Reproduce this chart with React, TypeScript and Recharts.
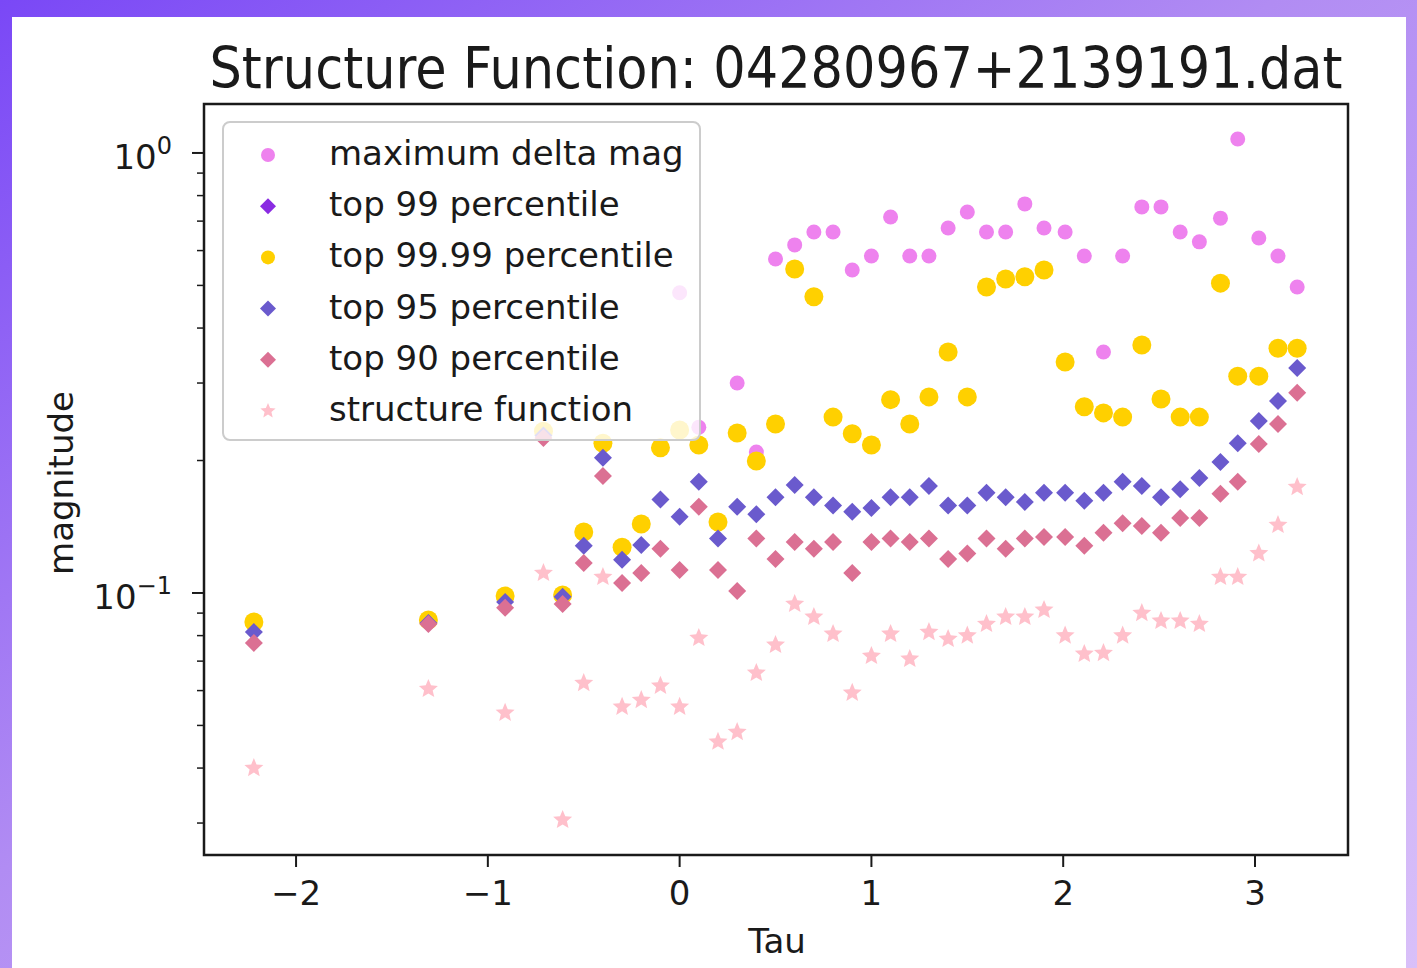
import React from "react";
import { ScatterChart, Scatter, XAxis, YAxis, ReferenceArea, Legend } from "recharts";

// log10 of the lag
const tau = [
  -2.22, -1.31, -0.91, -0.71, -0.61, -0.5, -0.4, -0.3, -0.2, -0.1, 0, 0.1, 0.2, 0.3, 0.4,
  0.5, 0.6, 0.7, 0.8, 0.9, 1.0, 1.1, 1.2, 1.3, 1.4, 1.5, 1.6, 1.7, 1.8, 1.9, 2.01, 2.11,
  2.21, 2.31, 2.41, 2.51, 2.61, 2.71, 2.82, 2.91, 3.02, 3.12, 3.22,
];

const maxDeltaMag = [
  0.0859, 0.0868, 0.0984, 0.233, 0.099, 0.1376, 0.219, 0.127, 0.1435, 0.2137, 0.481, 0.238,
  0.145, 0.3, 0.209, 0.574, 0.618, 0.661, 0.661, 0.542, 0.583, 0.715, 0.583, 0.583, 0.675,
  0.734, 0.661, 0.661, 0.766, 0.675, 0.661, 0.583, 0.353, 0.583, 0.754, 0.754, 0.661, 0.628,
  0.711, 1.076, 0.641, 0.583, 0.496,
];

const top99 = [
  0.0859, 0.0868, 0.0984, 0.233, 0.099, 0.1376, 0.219, 0.127, 0.1435, 0.2137, 0.2347, 0.217,
  0.145, 0.231, 0.1995, 0.242, 0.545, 0.471, 0.251, 0.23, 0.217, 0.275, 0.242, 0.279, 0.353,
  0.279, 0.496, 0.517, 0.523, 0.542, 0.335, 0.265, 0.2566, 0.251, 0.366, 0.276, 0.251, 0.251,
  0.506, 0.311, 0.311, 0.36, 0.36,
];

const top9999 = [
  0.0859, 0.0868, 0.0984, 0.233, 0.099, 0.1376, 0.219, 0.127, 0.1435, 0.2137, 0.2347, 0.217,
  0.145, 0.231, 0.1995, 0.242, 0.545, 0.471, 0.251, 0.23, 0.217, 0.275, 0.242, 0.279, 0.353,
  0.279, 0.496, 0.517, 0.523, 0.542, 0.335, 0.265, 0.2566, 0.251, 0.366, 0.276, 0.251, 0.251,
  0.506, 0.311, 0.311, 0.36, 0.36,
];

const top95 = [
  0.0815, 0.0855, 0.0954, 0.228, 0.098, 0.128, 0.203, 0.119, 0.1286, 0.163, 0.149, 0.179,
  0.133, 0.157, 0.151, 0.165, 0.176, 0.165, 0.158, 0.153, 0.156, 0.165, 0.165, 0.175, 0.158,
  0.158, 0.169, 0.165, 0.161, 0.169, 0.169, 0.162, 0.169, 0.179, 0.175, 0.165, 0.172, 0.1825,
  0.1985, 0.219, 0.246, 0.273, 0.3245,
];

const top90 = [
  0.077, 0.085, 0.0925, 0.225, 0.0944, 0.117, 0.1845, 0.1054, 0.111, 0.126, 0.1128, 0.157,
  0.1128, 0.101, 0.133, 0.1195, 0.1305, 0.126, 0.1305, 0.111, 0.1305, 0.133, 0.1305, 0.133,
  0.1195, 0.123, 0.133, 0.126, 0.133, 0.134, 0.134, 0.128, 0.137, 0.144, 0.142, 0.137, 0.148,
  0.148, 0.168, 0.179, 0.218, 0.242, 0.285,
];

const structureFunction = [
  0.04, 0.0605, 0.0534, 0.111, 0.0305, 0.0624, 0.1087, 0.0551, 0.0571, 0.0615, 0.0551, 0.079,
  0.0459, 0.0483, 0.0658, 0.0762, 0.0944, 0.0882, 0.0807, 0.0593, 0.0719, 0.0807, 0.0708,
  0.0815, 0.0786, 0.08, 0.085, 0.0882, 0.0882, 0.0915, 0.08, 0.0727, 0.073, 0.08, 0.09, 0.0864,
  0.0864, 0.085, 0.1087, 0.1087, 0.123, 0.1427, 0.174,
];

const xTicks = [-2, -1, 0, 1, 2, 3];
const yTicks = [
  0.03, 0.04, 0.05, 0.06, 0.07, 0.08, 0.09, 0.1, 0.2, 0.3, 0.4, 0.5, 0.6, 0.7, 0.8, 0.9, 1,
];

const X_MIN = -2.48;
const X_MAX = 3.485;
const Y_MIN = 0.02538;
const Y_MAX = 1.292;

const FONT = "DejaVu Sans";
const INK = "#1a1a1a";

type Kind = "circle" | "diamond" | "star";

const series: { name: string; values: number[]; color: string; kind: Kind; r: number }[] = [
  { name: "maximum delta mag", values: maxDeltaMag, color: "#ee82ee", kind: "circle", r: 7.5 },
  { name: "top 99 percentile", values: top99, color: "#8a2be2", kind: "diamond", r: 9 },
  { name: "top 99.99 percentile", values: top9999, color: "#ffd000", kind: "circle", r: 9.5 },
  { name: "top 95 percentile", values: top95, color: "#6a5acd", kind: "diamond", r: 9 },
  { name: "top 90 percentile", values: top90, color: "#db7093", kind: "diamond", r: 9 },
  { name: "structure function", values: structureFunction, color: "#ffc0cb", kind: "star", r: 10 },
];

function Marker({ kind, cx, cy, r, color }: { kind: Kind; cx: number; cy: number; r: number; color: string }) {
  if (kind === "circle") return <circle cx={cx} cy={cy} r={r} fill={color} />;
  if (kind === "diamond")
    return <path d={`M${cx},${cy - r}L${cx + r},${cy}L${cx},${cy + r}L${cx - r},${cy}Z`} fill={color} />;
  const pts: string[] = [];
  for (let k = 0; k < 10; k++) {
    const a = -Math.PI / 2 + (k * Math.PI) / 5;
    const rr = k % 2 === 0 ? r : r * 0.45;
    pts.push(`${cx + rr * Math.cos(a)},${cy + rr * Math.sin(a)}`);
  }
  return <polygon points={pts.join(" ")} fill={color} />;
}

const XTick = ({ x, y, payload }: any) => {
  const v = payload.value as number;
  const label = v < 0 ? `\u2212${Math.abs(v)}` : `${v}`;
  return (
    <g>
      <line x1={x} x2={x} y1={y} y2={y + 12} stroke={INK} strokeWidth={2} />
      <text x={x} y={y + 50} textAnchor="middle" fontSize={34} fontFamily={FONT} fill={INK}>
        {label}
      </text>
    </g>
  );
};

const YTick = ({ x, y, payload }: any) => {
  const v = payload.value as number;
  const major = v === 0.1 || v === 1;
  const len = major ? 12 : 7;
  return (
    <g>
      <line x1={x - len} x2={x} y1={y} y2={y} stroke={INK} strokeWidth={major ? 2 : 1.5} />
      {major && (
        <text x={x - 32} y={y + 16} textAnchor="end" fontSize={34} fontFamily={FONT} fill={INK}>
          10
          <tspan dy={-15} fontSize={24}>
            {v === 1 ? "0" : "\u22121"}
          </tspan>
        </text>
      )}
    </g>
  );
};

const LegendBox = () => (
  <svg width={480} height={322} style={{ display: "block" }}>
    <rect x={1} y={1} width={477} height={318} rx={7} fill="#fff" fillOpacity={0.8} stroke="#cccccc" strokeWidth={2} />
    {series.map((s, i) => {
      const cy = 34 + i * 51.2;
      return (
        <g key={s.name}>
          <Marker kind={s.kind} cx={46} cy={cy} r={s.kind === "circle" ? 7 : 8} color={s.color} />
          <text x={107} y={cy + 10} fontSize={34} fontFamily={FONT} fill={INK}>
            {s.name}
          </text>
        </g>
      );
    })}
  </svg>
);

export default function App() {
  return (
    <div
      style={{
        position: "absolute",
        left: 0,
        top: 0,
        width: 1417,
        height: 968,
        overflow: "hidden",
        background: "linear-gradient(to bottom right, #7a48f6 0%, #b18cf3 45%, #d9c0f9 100%)",
      }}
    >
      <div style={{ position: "absolute", left: 12, top: 17, width: 1394, height: 951, background: "#fff" }} />
      <div style={{ position: "absolute", left: 0, top: 0 }}>
        <ScatterChart width={1417} height={968} margin={{ top: 104, left: 203, right: 69, bottom: 112 }}>
          <XAxis
            type="number"
            dataKey="x"
            domain={[X_MIN, X_MAX]}
            allowDataOverflow
            ticks={xTicks}
            interval={0}
            height={1}
            tickSize={0}
            tickMargin={0}
            tickLine={false}
            axisLine={false}
            tick={(p: any) => <XTick {...p} />}
          />
          <YAxis
            type="number"
            dataKey="y"
            scale="log"
            domain={[Y_MIN, Y_MAX]}
            allowDataOverflow
            ticks={yTicks}
            interval={0}
            width={1}
            tickSize={0}
            tickMargin={0}
            tickLine={false}
            axisLine={false}
            tick={(p: any) => <YTick {...p} />}
          />
          {series.map((s) => (
            <Scatter
              key={s.name}
              name={s.name}
              data={tau.map((t, i) => ({ x: t, y: s.values[i] }))}
              fill={s.color}
              isAnimationActive={false}
              shape={(p: any) => <Marker kind={s.kind} cx={p.cx} cy={p.cy} r={s.r} color={s.color} />}
            />
          ))}
          <ReferenceArea
            x1={X_MIN}
            x2={X_MAX}
            y1={Y_MIN}
            y2={Y_MAX}
            fill="none"
            stroke={INK}
            strokeWidth={2.5}
          />
          <Legend
            layout="vertical"
            align="center"
            verticalAlign="middle"
            wrapperStyle={{ left: 222, top: 121, width: 480, height: 322 }}
            content={() => <LegendBox />}
          />
        </ScatterChart>
      </div>
      <svg width={1417} height={968} style={{ position: "absolute", left: 0, top: 0, pointerEvents: "none" }}>
        <text
          transform="translate(776,88) scale(1,1.1)"
          textAnchor="middle"
          fontSize={51}
          fontFamily={FONT}
          fill={INK}
        >
          Structure Function: 04280967+2139191.dat
        </text>
        <text x={777} y={953} textAnchor="middle" fontSize={34} fontFamily={FONT} fill={INK}>
          Tau
        </text>
        <text transform="translate(73,483) rotate(-90)" textAnchor="middle" fontSize={34} fontFamily={FONT} fill={INK}>
          magnitude
        </text>
      </svg>
    </div>
  );
}
